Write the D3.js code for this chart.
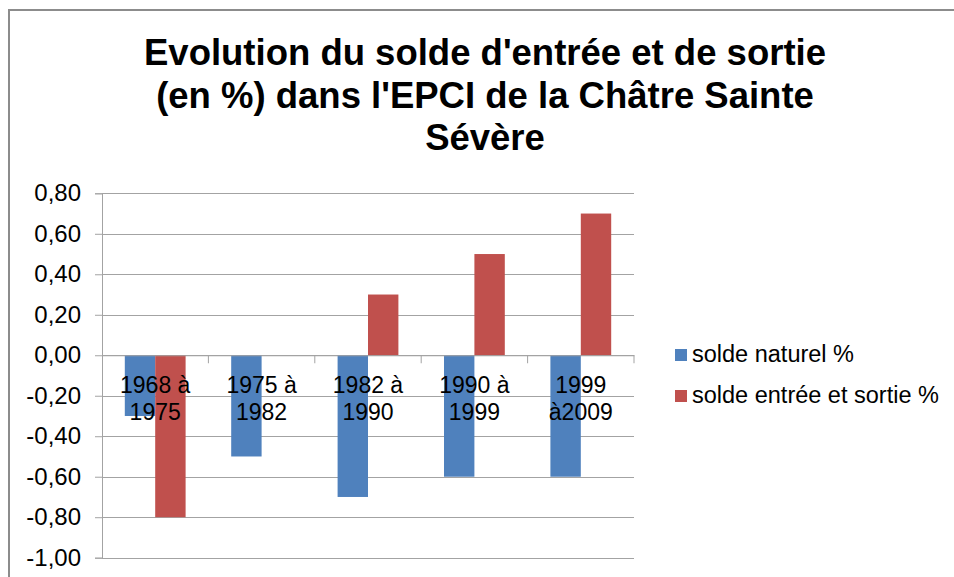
<!DOCTYPE html>
<html>
<head>
<meta charset="utf-8">
<script src="https://cdn.jsdelivr.net/npm/d3@7"></script>
<style>
  body { margin: 0; background: #fff; }
  svg text { font-family: "Liberation Sans", Arial, sans-serif; fill: #000; }
</style>
</head>
<body>
<svg id="chart" width="954" height="577"></svg>
<script>
// data
var categories = ["1968 à 1975", "1975 à 1982", "1982 à 1990", "1990 à 1999", "1999 à2009"];
var labelLines = [["1968 à", "1975"], ["1975 à", "1982"], ["1982 à", "1990"], ["1990 à", "1999"], ["1999", "à2009"]];
var soldeNaturel = [-0.30, -0.50, -0.70, -0.60, -0.60];
var soldeEntreeSortie = [-0.80, 0.00, 0.30, 0.50, 0.70];
var seriesNames = ["solde naturel %", "solde entrée et sortie %"];
var yTicks = [-1.0, -0.8, -0.6, -0.4, -0.2, 0.0, 0.2, 0.4, 0.6, 0.8];
var titleLines = ["Evolution du solde d'entrée et de sortie", "(en %) dans l'EPCI de la Châtre Sainte", "Sévère"];

var colors = ["#4f81bd", "#c0504d"];
var gridColor = "#a3a3a3";

var svg = d3.select("#chart");

var plot = { left: 102, right: 634, top: 193.3, bottom: 557.7 };

// frame (only top and left edges are visible in the picture)
svg.append("line")
    .attr("x1", 9).attr("x2", 954).attr("y1", 10).attr("y2", 10)
    .attr("stroke", "#8c8c8c").attr("stroke-width", 2);
svg.append("line")
    .attr("x1", 9).attr("x2", 9).attr("y1", 9).attr("y2", 577)
    .attr("stroke", "#8c8c8c").attr("stroke-width", 2);

// title
svg.append("g")
    .selectAll("text")
    .data(titleLines)
    .enter().append("text")
    .attr("x", 485)
    .attr("y", function(d, i) { return 65 + i * 42.5; })
    .attr("text-anchor", "middle")
    .style("font-size", "36.5px")
    .style("font-weight", "bold")
    .text(function(d) { return d; });

var y = d3.scaleLinear()
    .domain([-1.0, 0.8])
    .range([plot.bottom, plot.top]);

var x = d3.scaleBand()
    .domain(categories)
    .range([plot.left, plot.right])
    .padding(0);

var barW = x.bandwidth() / 3.5;

var fr = d3.formatLocale({ decimal: ",", thousands: " ", grouping: [3], currency: ["", " €"], minus: "-" });
var fmt = fr.format(".2f");

// y axis with gridlines
var yAxis = d3.axisLeft(y)
    .tickValues(yTicks)
    .tickSize(7)
    .tickPadding(14)
    .tickFormat(fmt);

var yg = svg.append("g")
    .attr("transform", "translate(" + plot.left + ",0)")
    .call(yAxis);
yg.select(".domain").attr("stroke", gridColor);
yg.selectAll(".tick line").attr("stroke", gridColor);
yg.selectAll(".tick text")
    .style("font-size", "24px")
    .attr("fill", "#000");

svg.append("g")
    .selectAll("line")
    .data(yTicks)
    .enter().append("line")
    .attr("x1", plot.left)
    .attr("x2", plot.right)
    .attr("y1", function(d) { return Math.round(y(d)) + 0.5; })
    .attr("y2", function(d) { return Math.round(y(d)) + 0.5; })
    .attr("stroke", gridColor)
    .attr("stroke-width", 1);

// bars
var series = [soldeNaturel, soldeEntreeSortie];
var bars = svg.append("g");
series.forEach(function(vals, s) {
    bars.selectAll(".bar" + s)
        .data(vals)
        .enter().append("rect")
        .attr("class", "bar" + s)
        .attr("x", function(d, i) { return x(categories[i]) + x.bandwidth() / 2 - barW + s * barW; })
        .attr("width", barW)
        .attr("y", function(d) { return y(Math.max(0, d)); })
        .attr("height", function(d) { return Math.abs(y(d) - y(0)); })
        .attr("fill", colors[s]);
});

// category axis crossing at zero, tick marks between categories
var xAxis = d3.axisBottom(x)
    .tickSize(0)
    .tickFormat("");
var xg = svg.append("g")
    .attr("transform", "translate(0," + y(0) + ")")
    .call(xAxis);
xg.select(".domain").attr("stroke", gridColor);

var bounds = categories.map(function(c) { return x(c) + x.bandwidth(); });
xg.selectAll(".sep")
    .data(bounds)
    .enter().append("line")
    .attr("class", "sep")
    .attr("x1", function(d) { return d; })
    .attr("x2", function(d) { return d; })
    .attr("y1", 0)
    .attr("y2", 8)
    .attr("stroke", gridColor);

// category labels, drawn over the bars
var labels = svg.append("g")
    .selectAll("text")
    .data(labelLines)
    .enter().append("text")
    .attr("x", function(d, i) { return x(categories[i]) + x.bandwidth() / 2; })
    .attr("y", 393)
    .attr("text-anchor", "middle")
    .style("font-size", "23px");
labels.selectAll("tspan")
    .data(function(d) { return d; })
    .enter().append("tspan")
    .attr("x", function() { return d3.select(this.parentNode).attr("x"); })
    .attr("dy", function(d, i) { return i ? 27 : 0; })
    .text(function(d) { return d; });

// legend
var legend = svg.append("g")
    .selectAll("g")
    .data(seriesNames)
    .enter().append("g")
    .attr("transform", function(d, i) { return "translate(675," + (349 + i * 41) + ")"; });
legend.append("rect")
    .attr("width", 12)
    .attr("height", 12)
    .attr("fill", function(d, i) { return colors[i]; });
legend.append("text")
    .attr("x", 17)
    .attr("y", 13)
    .style("font-size", "23.5px")
    .text(function(d) { return d; });
</script>
</body>
</html>
